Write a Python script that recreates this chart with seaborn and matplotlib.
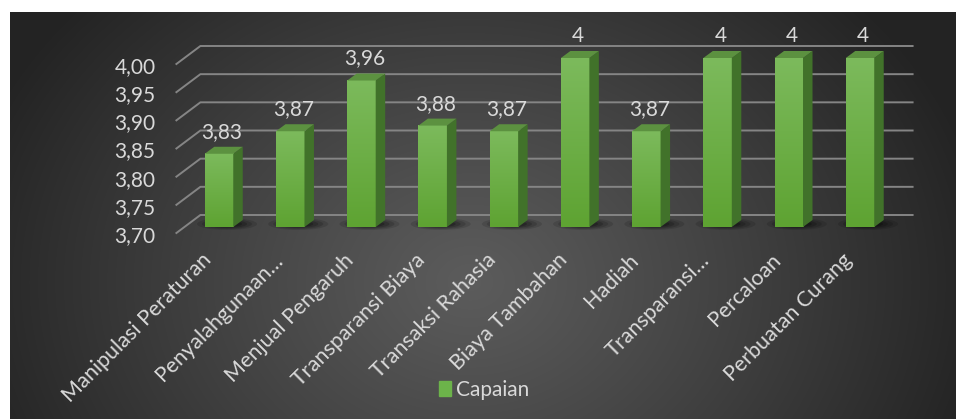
import numpy as np
import matplotlib
matplotlib.use("Agg")
import matplotlib.pyplot as plt
import matplotlib.transforms as mtransforms
from matplotlib.patches import Polygon, Patch, Ellipse
from matplotlib.lines import Line2D
import seaborn as sns

categories = ["Manipulasi Peraturan", "Penyalahgunaan…", "Menjual Pengaruh",
              "Transparansi Biaya", "Transaksi Rahasia", "Biaya Tambahan",
              "Hadiah", "Transparansi…", "Percaloan", "Perbuatan Curang"]
capaian = [3.83, 3.87, 3.96, 3.88, 3.87, 4.0, 3.87, 4.0, 4.0, 4.0]
value_labels = ["3,83", "3,87", "3,96", "3,88", "3,87", "4", "3,87", "4", "4", "4"]
yticks = [3.70, 3.75, 3.80, 3.85, 3.90, 3.95, 4.00]
ytick_labels = ["3,70", "3,75", "3,80", "3,85", "3,90", "3,95", "4,00"]
series_name = "Capaian"

plt.rcParams["font.family"] = ["Lato", "DejaVu Sans"]
txt_color = "#d9d9d9"
grid_color = "#858585"
front_top, front_bot = "#7cba5c", "#5ea332"
side_color = "#41722a"
top_color = "#5c9140"

W, H = 956, 419
fig = plt.figure(figsize=(W / 100, H / 100), dpi=100, facecolor="white")

# radial gradient background of the chart area
bg = fig.add_axes([10 / W, 0, 946 / W, 407 / H], zorder=-10)
gx, gy = np.meshgrid(np.arange(946), np.arange(407))
r = np.sqrt((gx - 460) ** 2 + ((gy - 270) * 1.25) ** 2)
t = np.clip(r / 520, 0, 1) ** 1.1
c0, c1 = np.array([0.36, 0.36, 0.36]), np.array([0.14, 0.14, 0.14])
img = c0[None, None, :] * (1 - t[..., None]) + c1[None, None, :] * t[..., None]
bg.imshow(img, aspect="auto", extent=(0, 1, 0, 1), origin="upper")
bg.set_axis_off()

ax = fig.add_axes([183.4 / W, (H - 227) / H, 712.2 / W, 169 / H])
ax.set_facecolor("none")
sns.barplot(x=categories, y=capaian, color=front_bot, width=0.4, ax=ax,
            zorder=3, linewidth=0)
ax.set_ylim(3.70, 4.00)
ax.set_xlim(-0.5, len(categories) - 0.5)
for s in ax.spines.values():
    s.set_visible(False)
ax.set_xlabel("")
ax.set_ylabel("")

# y ticks
ax.set_yticks(yticks)
ax.set_yticklabels(ytick_labels)
ax.tick_params(axis="y", length=0, pad=20, labelsize=15, labelcolor=txt_color)
for lab in ax.get_yticklabels():
    lab.set_transform(lab.get_transform() + mtransforms.ScaledTranslation(0, -0.07, fig.dpi_scale_trans))

# x ticks
ax.set_xticks(range(len(categories)))
ax.set_xticklabels(categories, rotation=45, ha="right", va="center",
                   rotation_mode="anchor")
ax.tick_params(axis="x", length=0, pad=0, labelsize=15.5, labelcolor=txt_color)
for lab in ax.get_xticklabels():
    lab.set_transform(lab.get_transform() + mtransforms.ScaledTranslation(-0.11, -0.30, fig.dpi_scale_trans))

# 3d walls: back gridlines with diagonal side wall lines
fig.canvas.draw()
tr = ax.transData
back = np.array([17, 12])
frontoff = np.array([-7, -6])
for v in yticks:
    p0 = tr.transform((-0.5, v))
    p1 = tr.transform((len(categories) - 0.5, v))
    ax.add_line(Line2D([p0[0] + frontoff[0], p0[0] + back[0], p1[0] + back[0]],
                       [p0[1] + frontoff[1], p0[1] + back[1], p1[1] + back[1]],
                       transform=mtransforms.IdentityTransform(), color=grid_color,
                       lw=1.4, zorder=1, clip_on=False))

# bars: gradient front, side and top faces, shadow
depth = np.array([9.5, 7])
grad = np.linspace(0, 1, 100)[:, None]
cmap = matplotlib.colors.LinearSegmentedColormap.from_list("g", [front_top, front_bot])
for bar, lab in zip(ax.patches, value_labels):
    x0, x1 = bar.get_x(), bar.get_x() + bar.get_width()
    ytop = bar.get_y() + bar.get_height()
    ybot = 3.70
    ax.imshow(grad, cmap=cmap, extent=(x0, x1, ybot, ytop), aspect="auto",
              origin="upper", zorder=3.1, clip_path=bar, clip_on=True)
    bl, br = tr.transform((x0, ybot)), tr.transform((x1, ybot))
    tl, trr = tr.transform((x0, ytop)), tr.transform((x1, ytop))
    # shadow
    for k, a in enumerate([0.12, 0.14, 0.18, 0.22]):
        w = 60 - 10 * k
        ax.add_patch(Ellipse(((bl[0] + br[0]) / 2 + 8, bl[1] + 3), w, 12 - 2 * k,
                             transform=mtransforms.IdentityTransform(),
                             color="black", alpha=a, lw=0, zorder=2, clip_on=False))
    side = [br, trr, trr + depth, br + depth]
    top = [tl, trr, trr + depth, tl + depth]
    ax.add_patch(Polygon(side, closed=True, transform=mtransforms.IdentityTransform(),
                         facecolor=side_color, edgecolor="none", zorder=3.2, clip_on=False))
    ax.add_patch(Polygon(top, closed=True, transform=mtransforms.IdentityTransform(),
                         facecolor=top_color, edgecolor="none", zorder=3.2, clip_on=False))
    ax.annotate(lab, ((x0 + x1) / 2, ytop), xytext=(3, 22), textcoords="offset pixels",
                ha="center", va="center", fontsize=15, color=txt_color,
                annotation_clip=False)

fig.legend(handles=[Patch(color="#6cb34a", label=series_name)], loc="center",
           bbox_to_anchor=(484 / W, 1 - 390 / H), frameon=False, fontsize=15,
           labelcolor=txt_color, handlelength=0.6, handleheight=0.75,
           handletextpad=0.25)

fig.savefig("out.png", dpi=100)
